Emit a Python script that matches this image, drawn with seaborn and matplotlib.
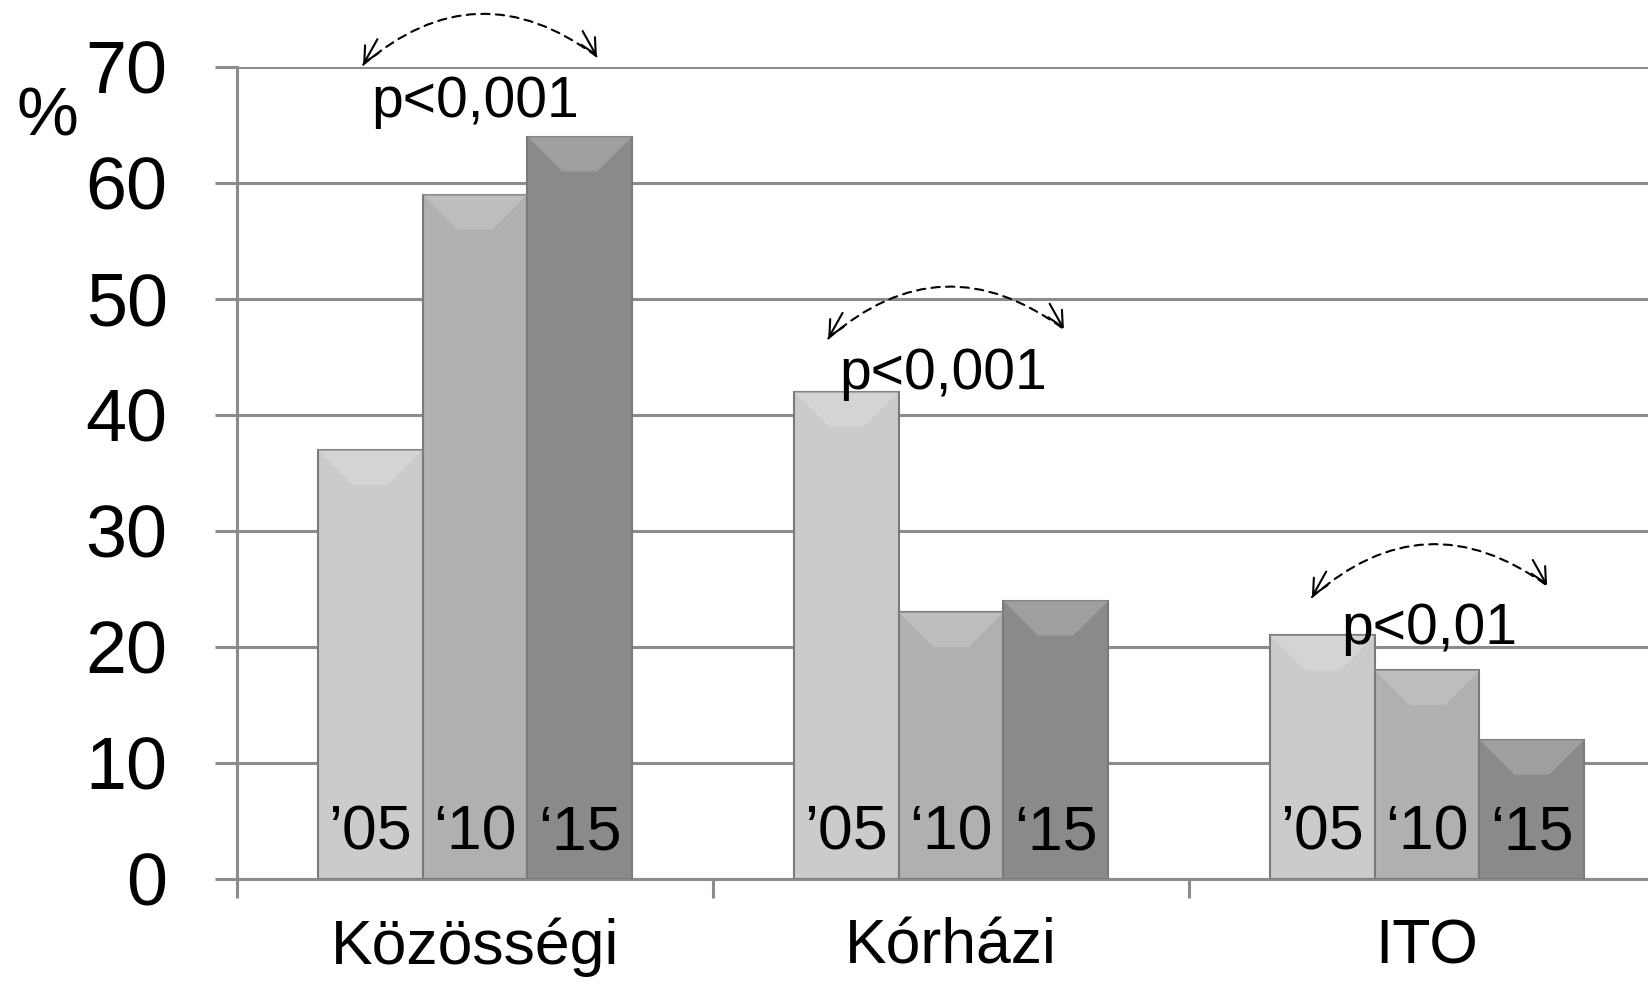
import pandas as pd
import matplotlib.pyplot as plt
import matplotlib.colors as mcolors
from matplotlib.patches import Polygon
import seaborn as sns

# Chart data
categories = ['Közösségi', 'Kórházi', 'ITO']
years = ['’05', '‘10', '‘15']
values_05 = [37, 42, 21]
values_10 = [59, 23, 18]
values_15 = [64, 24, 12]
p_labels = ['p<0,001', 'p<0,001', 'p<0,01']
y_ticks = [0, 10, 20, 30, 40, 50, 60, 70]

# Long table for seaborn
rows = []
for i, cat in enumerate(categories):
    for yr, vals in zip(years, [values_05, values_10, values_15]):
        rows.append({'category': cat, 'year': yr, 'value': vals[i]})
df = pd.DataFrame(rows)

sns.set_style("white")
plt.rcParams['font.family'] = ['Liberation Sans', 'DejaVu Sans']
plt.rcParams['text.color'] = 'black'
plt.rcParams['xtick.labelcolor'] = 'black'
plt.rcParams['ytick.labelcolor'] = 'black'

fig = plt.figure(figsize=(16.48, 9.86), dpi=100)
ax = fig.add_axes([237 / 1648, 1 - 879 / 986, 1 - 237 / 1648, (879 - 67) / 986])

grid_col = '#8c8c8c'
bar_cols = ['#cbcbcb', '#b0b0b0', '#8a8a8a']
sns.barplot(data=df, x='category', y='value', hue='year', palette=bar_cols,
            width=0.66, gap=0, edgecolor='#7a7a7a', linewidth=1.5,
            legend=False, ax=ax, zorder=3)

ax.set_xlim(-0.5, 2.464)
ax.set_ylim(0, 70)
ax.set_yticks(y_ticks)
ax.yaxis.grid(True, color=grid_col, linewidth=2.2, zorder=0)
ax.set_axisbelow(True)
for s in ['top', 'right']:
    ax.spines[s].set_visible(False)
for s in ['left', 'bottom']:
    ax.spines[s].set_color(grid_col)
    ax.spines[s].set_linewidth(2.2)

ax.tick_params(axis='y', labelsize=53, length=16, width=2.2, color=grid_col,
               pad=34, left=True)
ax.set_xticks([-0.5, 0.5, 1.5])
ax.set_xticklabels([])
ax.set_xticks([0, 1, 2], minor=True)
ax.set_xticklabels(categories, minor=True)
ax.tick_params(axis='x', which='major', length=14, width=2.2, color=grid_col,
               bottom=True)
ax.tick_params(axis='x', which='minor', length=0, labelsize=45, pad=28)
ax.set_xlabel('')
ax.set_ylabel('')

# soft bevel highlight on top of each bar (depth = 1/3 of bar width, in pixels)
px_per_x = ax.transData.transform((1, 0))[0] - ax.transData.transform((0, 0))[0]
px_per_y = ax.transData.transform((0, 1))[1] - ax.transData.transform((0, 0))[1]
for group, col in zip(ax.containers, bar_cols):
    light = mcolors.to_rgb(col)
    light = tuple(c + (1 - c) * 0.4 for c in light)
    for bar in group:
        x0, w, h = bar.get_x(), bar.get_width(), bar.get_height()
        depth = w * px_per_x / 3 / px_per_y
        poly = Polygon([(x0, h), (x0 + w, h), (x0 + 2 * w / 3, h - depth),
                        (x0 + w / 3, h - depth)], closed=True,
                       facecolor=light, edgecolor='none', alpha=0.45, zorder=4)
        ax.add_patch(poly)

# Year labels inside bars
for patch_group, yr in zip(ax.containers, years):
    for bar in patch_group:
        ax.text(bar.get_x() + bar.get_width() / 2, 2.5, yr, ha='center',
                va='baseline', fontsize=45, zorder=5)

# p-value labels and dashed arrows
p_pos = [(0.0, 65.7), (0.983, 42.2), (2.004, 20.3)]
arrow_pos = [((-0.235, 70.2), (0.256, 70.9)),
             ((0.742, 46.6), (1.237, 47.4)),
             ((1.758, 24.3), (2.252, 25.3))]
for lab, (px, py), (a, b) in zip(p_labels, p_pos, arrow_pos):
    ax.text(px, py, lab, ha='center', va='baseline', fontsize=41, zorder=6)
    ax.annotate('', xy=b, xytext=a, annotation_clip=False,
                arrowprops=dict(arrowstyle='-', linestyle=(0, (4, 3)),
                                color='black', linewidth=1.5,
                                connectionstyle='arc3,rad=-0.4',
                                shrinkA=0, shrinkB=0))
    # solid open heads at both ends
    for tip, sgn in [(a, 1), (b, -1)]:
        ax.annotate('', xy=tip, xytext=(tip[0] + sgn * 0.03, tip[1] + 2.2),
                    annotation_clip=False,
                    arrowprops=dict(arrowstyle='->', color='black', linewidth=1.5,
                                    mutation_scale=28, shrinkA=0, shrinkB=0))

fig.text(47 / 1648, 1 - 118 / 986, '%', ha='center', va='center', fontsize=50)

plt.savefig('out.png', dpi=100)
